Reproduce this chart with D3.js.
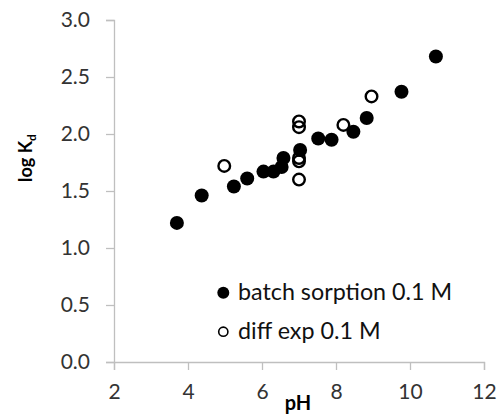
<!DOCTYPE html>
<html><head><meta charset="utf-8">
<script src="https://cdn.jsdelivr.net/npm/d3@7"></script>
<style>body{margin:0;background:#fff}svg{display:block}</style>
</head><body>
<script>
const batchPH = [3.7, 4.37, 5.24, 5.6, 6.04, 6.31, 6.53, 6.58, 7.03, 7.52, 7.88, 8.47, 8.83, 9.77, 10.7];
const batchK  = [1.22, 1.46, 1.54, 1.61, 1.67, 1.67, 1.71, 1.79, 1.86, 1.96, 1.95, 2.02, 2.14, 2.37, 2.68];
const diffPH = [4.98, 7.0, 7.0, 7.0, 7.0, 7.0, 8.2, 8.96];
const diffK  = [1.72, 2.11, 2.06, 1.79, 1.76, 1.60, 2.08, 2.33];
const xTicks = [2, 4, 6, 8, 10, 12];
const yTicks = [0, 0.5, 1.0, 1.5, 2.0, 2.5, 3.0];
const seriesNames = ["batch sorption 0.1 M", "diff exp 0.1 M"];

const W = 497, H = 416;
const font = "Lato, 'Open Sans', sans-serif";
const svg = d3.select("body").append("svg").attr("width", W).attr("height", H);
const x = d3.scaleLinear().domain([2, 12]).range([114, 484]);
const y = d3.scaleLinear().domain([0, 3]).range([362, 20]);

const gx = svg.append("g").attr("transform", "translate(0,362)")
  .call(d3.axisBottom(x).tickValues(xTicks).tickFormat(d3.format("d")).tickSizeOuter(0).tickSize(8).tickPadding(14));
const gy = svg.append("g").attr("transform", "translate(114,0)")
  .call(d3.axisLeft(y).tickValues(yTicks).tickFormat(d3.format(".1f")).tickSizeOuter(0).tickSize(8).tickPadding(16));
[gx, gy].forEach(g => {
  g.selectAll("path,line").attr("stroke", "#bfbfbf").attr("stroke-width", 1.3);
  g.selectAll("text").attr("fill", "#333").style("font-family", font).style("font-size", "21px");
});

const batch = batchPH.map((p, i) => ({p, k: batchK[i]}));
const diff = diffPH.map((p, i) => ({p, k: diffK[i]}));
svg.append("g").selectAll("circle").data(batch).join("circle")
  .attr("cx", d => x(d.p)).attr("cy", d => y(d.k)).attr("r", 7).attr("fill", "#000");
svg.append("g").selectAll("circle").data(diff).join("circle")
  .attr("cx", d => x(d.p)).attr("cy", d => y(d.k)).attr("r", 5.8)
  .attr("fill", "none").attr("stroke", "#000").attr("stroke-width", 2.4);

// legend
const lg = svg.append("g");
lg.append("circle").attr("cx", 223.3).attr("cy", 292.7).attr("r", 6).attr("fill", "#000");
lg.append("circle").attr("cx", 223.3).attr("cy", 331.7).attr("r", 4.6).attr("fill", "none").attr("stroke", "#000").attr("stroke-width", 1.6);
lg.selectAll("text.l").data(seriesNames).join("text").attr("class", "l")
  .attr("x", 238).attr("y", (d, i) => 300 + i * 39)
  .attr("fill", "#111").style("font-family", font).style("font-size", "23.3px").text(d => d);

// axis titles
svg.append("text").attr("x", 298).attr("y", 410).attr("text-anchor", "middle")
  .style("font-family", font).style("font-size", "20px").style("font-weight", "bold").attr("fill", "#000").text("pH");
const yl = svg.append("text").attr("transform", "translate(32,158) rotate(-90)").attr("text-anchor", "middle")
  .style("font-family", font).style("font-size", "18px").style("font-weight", "bold").attr("fill", "#000");
yl.append("tspan").text("log K");
yl.append("tspan").attr("dy", 4).style("font-size", "12px").text("d");
</script>
</body></html>
